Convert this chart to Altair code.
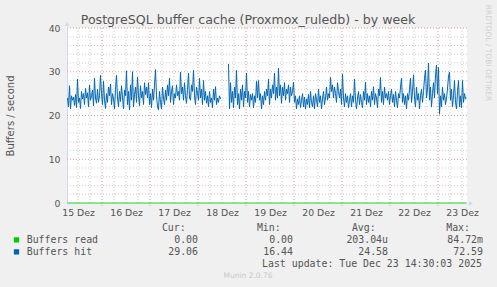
import altair as alt
import pandas as pd

# ---------------- data ----------------
START_H = 6.75   # first sample, hours after 15 Dez 00:00
STEP_H = 0.5     # 30-minute samples

buffers_hit = [
    24.0, 22.0, 26.8, 21.5, 24.5, 23.5, 24.2, 22.3, 24.8, 21.8, 28.3, 23.0, 24.0, 21.6, 25.5, 23.8, 25.0, 22.5, 26.2, 24.0,
    25.2, 22.0, 27.0, 23.5, 24.5, 25.8, 22.2, 28.5, 24.0, 22.8, 26.0, 23.0, 24.5, 29.2, 25.0, 22.5, 27.8, 23.5, 21.6, 25.0,
    23.0, 26.5, 24.5, 27.2, 22.5, 25.0, 23.8, 21.5, 26.0, 29.2, 24.0, 22.0, 25.5, 23.2, 26.8, 24.2, 21.5, 25.8, 24.5, 30.2,
    22.5, 25.5, 21.3, 27.0, 23.5, 30.0, 22.0, 24.8, 26.5, 23.0, 28.8, 24.5, 22.2, 26.8, 24.0, 25.5, 22.5, 27.5, 24.8, 26.5,
    24.0, 27.5, 22.5, 25.0, 21.8, 26.0, 23.5, 27.0, 30.5, 24.5, 22.0, 21.3, 25.5, 23.0, 21.5, 26.5, 24.0, 22.5, 25.8, 23.5,
    27.0, 24.5, 28.5, 23.0, 25.5, 26.8, 22.5, 25.0, 24.0, 27.0, 24.5, 25.5, 23.5, 29.9, 25.0, 26.5, 23.5, 27.5, 24.5, 22.8,
    26.0, 29.7, 24.0, 23.5, 27.0, 25.5, 30.4, 24.5, 22.5, 26.5, 25.0, 23.5, 28.5, 24.0, 26.0, 22.5, 28.0, 23.5, 25.5, 22.8,
    24.5, 22.0, 25.5, 23.0, 24.0, 21.8, 26.0, 23.5, 26.6, 22.5, 24.0, 23.0, 24.5, 23.8,
    None, None, None, None, None, None, None,
    31.8, 21.5, 27.5, 23.0, 25.5, 21.8, 26.5, 24.0, 30.3, 22.5, 25.0, 21.5, 26.0, 23.5, 27.0, 22.0, 25.5, 24.0, 29.7,
    23.0, 25.5, 22.0, 24.8, 23.5, 25.0, 21.8, 24.5, 23.0, 27.8, 24.0, 28.0, 23.5, 25.0, 21.5, 24.5, 22.5, 25.5, 23.5, 26.0,
    24.5, 28.3, 22.5, 26.0, 24.0, 27.0, 25.0, 29.7, 23.5, 26.5, 24.0, 30.8, 24.5, 27.0, 22.8, 26.5, 24.5, 27.5, 23.5, 26.0,
    25.0, 27.0, 23.0, 26.5, 24.5, 25.5, 27.6, 23.0, 24.5, 21.5, 23.8, 22.5, 24.5, 21.8, 23.5, 25.0, 22.0, 24.2, 21.5, 23.8,
    22.5, 24.8, 21.8, 25.5, 23.0, 22.0, 24.5, 21.5, 25.0, 23.5, 22.0, 26.0, 23.0, 24.5, 21.5, 23.8, 25.5, 22.5, 24.0, 26.5,
    23.5, 25.0, 24.0, 28.7, 25.5, 27.0, 24.0, 26.5, 25.0, 23.0, 27.5, 25.5, 24.0, 26.0, 22.5, 29.5, 24.0, 22.0, 25.0, 23.0,
    24.5, 21.8, 23.5, 25.0, 22.0, 24.5, 23.0, 28.3, 23.5, 21.5, 24.0, 25.5, 22.5, 24.8, 23.0, 21.8, 25.5, 23.5, 27.6, 22.5,
    25.0, 23.0, 24.5, 22.0, 25.5, 23.5, 26.6, 22.5, 25.0, 24.0, 21.8, 26.0, 24.5, 28.7, 23.0, 25.5, 22.5, 26.5, 24.0, 25.0,
    23.5, 25.5, 22.5, 24.5, 26.0, 23.0, 24.8, 22.0, 25.5, 23.5, 21.8, 25.0, 24.0, 26.5, 28.5, 23.0, 25.0, 22.5, 24.5, 21.5,
    25.0, 23.5, 26.0, 28.5, 23.0, 25.5, 29.3, 24.0, 22.0, 26.5, 23.5, 25.0, 21.5, 24.5, 26.0, 23.0, 25.5, 28.5, 30.4, 24.0,
    26.0, 32.0, 23.5, 26.5, 22.0, 25.0, 27.5, 24.0, 29.3, 31.5, 25.0, 31.0, 20.3, 24.5, 22.0, 26.5, 23.5, 25.0, 22.5, 24.0,
    26.0, 29.0, 29.9, 23.5, 26.0, 22.0, 24.5, 28.0, 23.0, 21.5, 25.5, 28.0, 22.0, 24.5, 21.8, 28.0, 23.0, 25.0, 23.8, 24.0,
]
N = len(buffers_hit)
buffers_read = [0.0] * N

day_labels = ["15 Dez", "16 Dez", "17 Dez", "18 Dez", "19 Dez", "20 Dez", "21 Dez", "22 Dez", "23 Dez"]
y_labels = [0, 10, 20, 30, 40]

series_names = ["Buffers read", "Buffers hit"]
series_colors = ["#00CC00", "#0066B3"]
cur_vals = ["0.00\u00a0", "29.06\u00a0"]
min_vals = ["0.00\u00a0", "16.44\u00a0"]
avg_vals = ["203.04u", "24.58\u00a0"]
max_vals = ["84.72m", "72.59\u00a0"]
headers = ["Cur:", "Min:", "Avg:", "Max:"]

TITLE = "PostgreSQL buffer cache (Proxmox_ruledb) - by week"
Y_TITLE = "Buffers / second"
LAST_UPDATE = "Last update: Tue Dec 23 14:30:03 2025"
VERSION = "Munin 2.0.76"
WATERMARK = "RRDTOOL / TOBI OETIKER"

# ---------------- build tables ----------------
rows = []
seg = 0
for i, v in enumerate(buffers_hit):
    if v is None:
        seg = 1
        continue
    rows.append({"h": START_H + STEP_H * i, "v": v, "seg": seg})
hit_df = pd.DataFrame(rows)
read_df = pd.DataFrame({"h": [START_H + STEP_H * i for i in range(N)], "v": buffers_read})

X_DOMAIN = [6.5, 206.5]
xs = alt.Scale(domain=X_DOMAIN, nice=False, zero=False)
ys = alt.Scale(domain=[0, 40], nice=False, zero=True)

FG = "#555555"
SANS = "DejaVu Sans"
MONO = "DejaVu Sans Mono"
MINOR = "#CFCFCF"
MAJOR = "#E09C9C"
AXISC = "#CFD6F8"

label_hours = [12 + 24 * k for k in range(len(day_labels))]
vmajor = [24 * k for k in range(1, 9)]
vminor = [h for h in range(12, 207, 6) if h % 24 != 0]
hmajor = [10, 20, 30, 40]
hminor = [v for v in range(2, 40, 2) if v % 10 != 0]

label_expr = "[" + ",".join("'%s'" % s for s in day_labels) + "][floor(datum.value / 24)]"

x_axis = alt.Axis(values=label_hours, labelExpr=label_expr, ticks=False, domain=False, grid=False,
                  labelFont=SANS, labelFontSize=9.3, labelColor=FG, labelPadding=5.5, title=None)
y_axis = alt.Axis(values=y_labels, ticks=False, domain=True, domainColor=AXISC, grid=False,
                  labelFont=SANS, labelFontSize=9.3, labelColor=FG, labelPadding=7, title=None)


def X():
    return alt.X("h:Q", scale=xs, axis=x_axis)


def Y():
    return alt.Y("v:Q", scale=ys, axis=y_axis)


layers = []
# grid
layers.append(alt.Chart(pd.DataFrame({"h": vminor})).mark_rule(color=MINOR, strokeDash=[1, 2], strokeWidth=1)
              .encode(x=X()))
layers.append(alt.Chart(pd.DataFrame({"v": hminor})).mark_rule(color=MINOR, strokeDash=[1, 2], strokeWidth=1)
              .encode(y=Y()))
layers.append(alt.Chart(pd.DataFrame({"h": vmajor})).mark_rule(color=MAJOR, strokeDash=[1, 2], strokeWidth=1)
              .encode(x=X(), y=alt.value(0), y2=alt.value(179)))
layers.append(alt.Chart(pd.DataFrame({"v": hmajor})).mark_rule(color=MAJOR, strokeDash=[1, 2], strokeWidth=1)
              .encode(y=Y()))
# data
layers.append(alt.Chart(hit_df).mark_line(color=series_colors[1], strokeWidth=1, interpolate="linear")
              .encode(x=X(), y=Y(), detail="seg:N"))
layers.append(alt.Chart(read_df).mark_line(color=series_colors[0], strokeWidth=1)
              .encode(x=X(), y=Y()))
# arrows
one = pd.DataFrame({"k": [0]})
layers.append(alt.Chart(one).mark_point(shape="triangle-up", filled=True, color=AXISC, size=22, opacity=1)
              .encode(x=alt.value(0), y=alt.value(-4)))
layers.append(alt.Chart(one).mark_point(shape="triangle-right", filled=True, color=AXISC, size=22, opacity=1)
              .encode(x=alt.value(404), y=alt.value(175.5)))


def txt(s, x, y, align="left", font=MONO, size=9.9, color=FG, angle=0, baseline="middle"):
    return (alt.Chart(pd.DataFrame({"t": [s]}))
            .mark_text(align=align, baseline=baseline, font=font, fontSize=size, color=color, angle=angle)
            .encode(text="t:N", x=alt.value(x), y=alt.value(y)))


layers.append(txt(TITLE, 181, -4, align="center", font=SANS, size=12.6, baseline="alphabetic"))
layers.append(txt(WATERMARK, 421, 25, align="center", font=SANS, size=7.5, color="#D0D0D0", angle=90))
layers.append(txt(Y_TITLE, -56, 88, align="center", font=SANS, size=10, angle=270))

header_x = [118.7, 213.7, 308.7, 403]
for hdr, hx in zip(headers, header_x):
    layers.append(txt(hdr, hx, 199.5, align="right"))

row_y = [211.9, 223.9]
col_x = [131, 226, 321, 416]
for r in range(2):
    layers.append(alt.Chart(one).mark_square(color=series_colors[r], size=28, opacity=1)
                  .encode(x=alt.value(-50.5), y=alt.value(row_y[r])))
    layers.append(txt(series_names[r], -40.3, row_y[r]))
    for vals, cx in zip([cur_vals, min_vals, avg_vals, max_vals], col_x):
        layers.append(txt(vals[r], cx, row_y[r], align="right"))

layers.append(txt(LAST_UPDATE, 415, 235.5, align="right"))
layers.append(txt(VERSION, 181, 248, align="center", font=SANS, size=7.5, color="#C8C8C8"))

chart = (alt.layer(*layers)
         .properties(width=400, height=175,
                     autosize=alt.AutoSizeParams(type="none"),
                     padding={"left": 67, "top": 28, "right": 30, "bottom": 84},
                     background="#F0F0F0")
         .configure_view(fill="white", stroke=None))

chart.save("out.html", embed_options={"renderer": "svg", "actions": False})
